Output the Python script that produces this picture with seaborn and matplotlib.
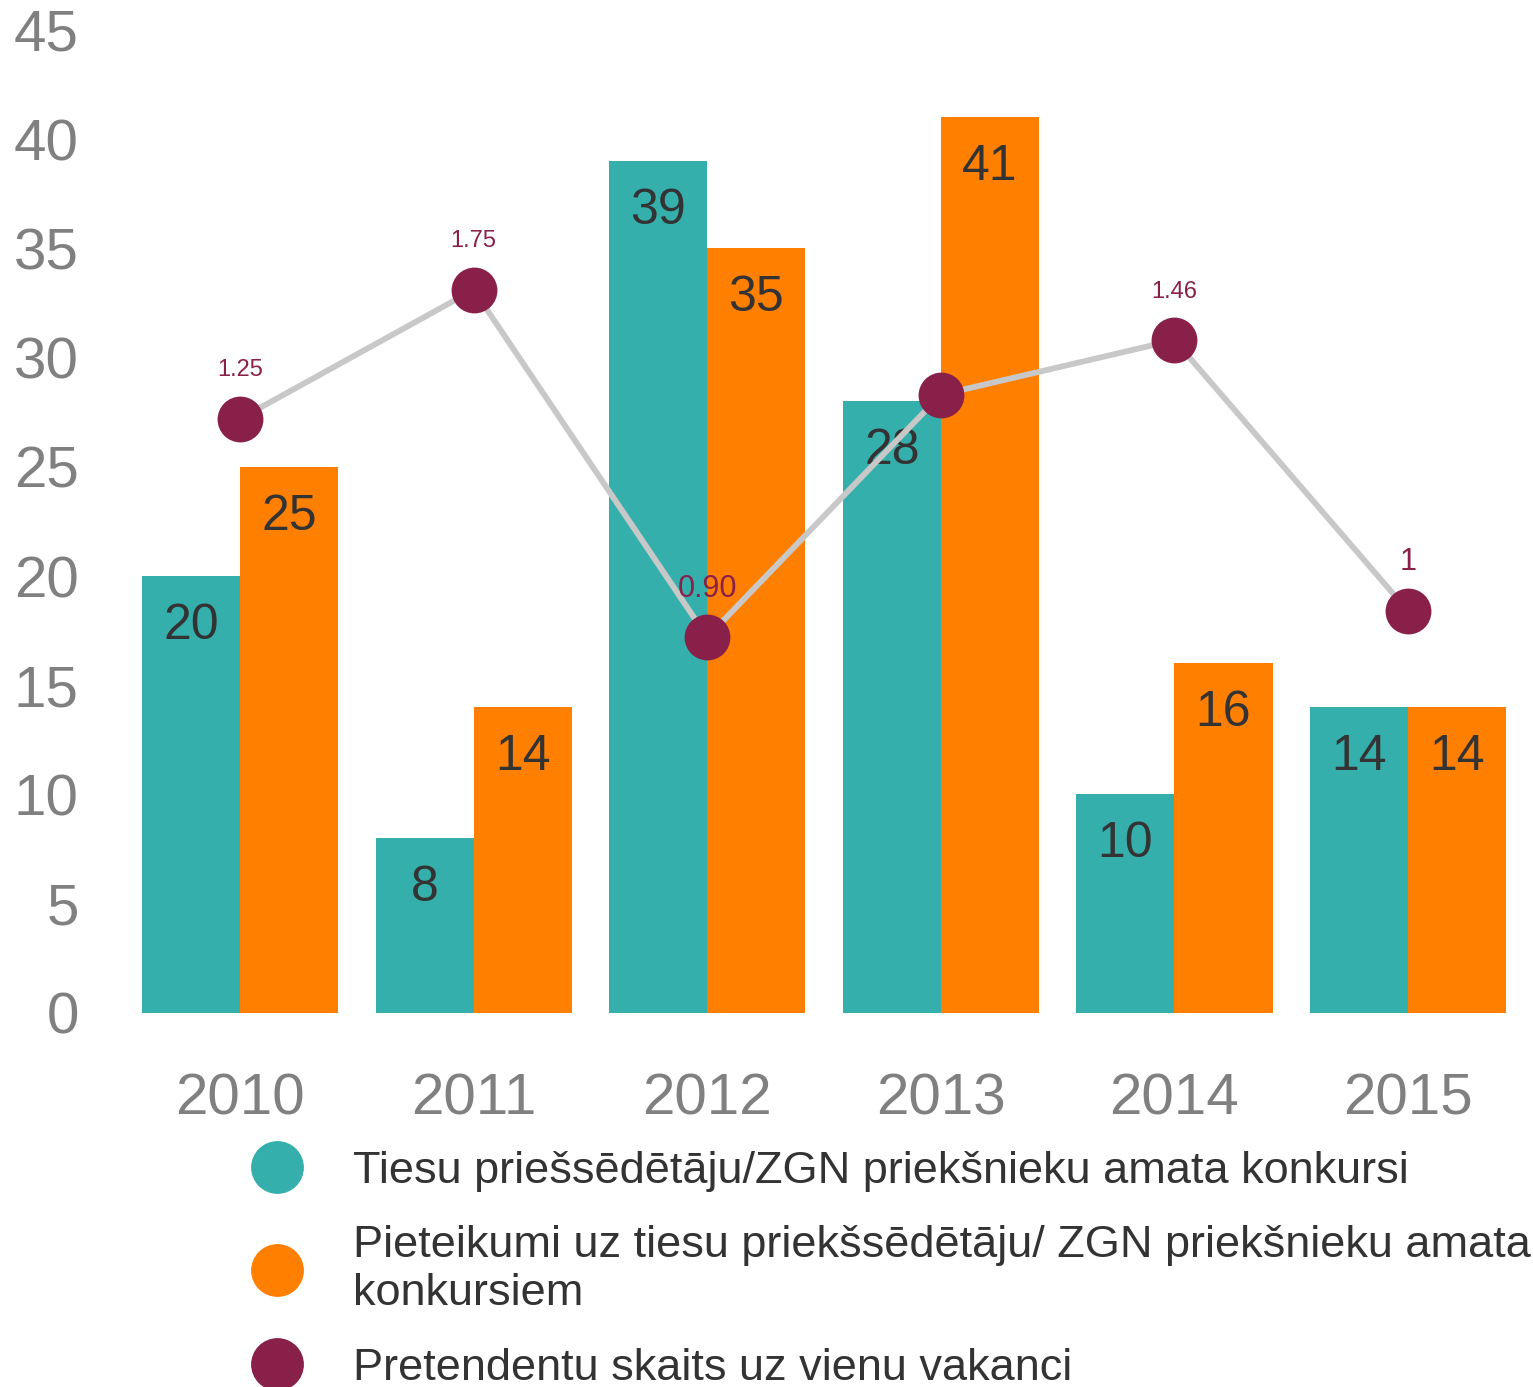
import numpy as np
import pandas as pd
import matplotlib.pyplot as plt
import seaborn as sns
from matplotlib.lines import Line2D

# Data
years = ["2010", "2011", "2012", "2013", "2014", "2015"]
competitions = [20, 8, 39, 28, 10, 14]
applications = [25, 14, 35, 41, 16, 14]
# marker heights as drawn in the picture (on the bar scale) and their printed labels
ratio_height = [27.2, 33.1, 17.2, 28.3, 30.8, 18.4]
ratio_labels = ["1.25", "1.75", "0.90", "", "1.46", "1"]

series_names = [
    "Tiesu priešsēdētāju/ZGN priekšnieku amata konkursi",
    "Pieteikumi uz tiesu priekšsēdētāju/ ZGN priekšnieku amata\nkonkursiem",
    "Pretendentu skaits uz vienu vakanci",
]

teal = "#35AFAB"
orange = "#FF7F00"
maroon = "#88204A"
grey_line = "#C8C8C8"

df = pd.DataFrame({
    "year": years * 2,
    "series": [series_names[0]] * len(years) + [series_names[1]] * len(years),
    "value": competitions + applications,
})

sns.set_style("white")
plt.rcParams["font.family"] = ["Liberation Sans", "DejaVu Sans"]

fig = plt.figure(figsize=(15.33, 13.87), dpi=100)
ax = fig.add_axes([0.0804, 0.2697, 0.9143, 0.7087])

sns.barplot(data=df, x="year", y="value", hue="series", order=years,
            palette=[teal, orange], width=0.84, saturation=1, ax=ax,
            legend=False, linewidth=0)

# value labels inside the bar tops
for cont in ax.containers:
    for p in cont:
        ax.annotate(f"{int(round(p.get_height()))}",
                    (p.get_x() + p.get_width() / 2, p.get_height()),
                    xytext=(0, -36), textcoords="offset points",
                    ha="center", va="center", fontsize=36, color="#333333")

# ratio line
xpos = np.arange(len(years))
sns.lineplot(x=xpos, y=ratio_height, ax=ax, color=grey_line, linewidth=4.2,
             zorder=3)
ax.scatter(xpos, ratio_height, s=33 ** 2, color=maroon, zorder=4,
           linewidths=0)
label_sizes = [17, 17, 22, 17, 17, 22]
for x, h, lab, fs in zip(xpos, ratio_height, ratio_labels, label_sizes):
    ax.annotate(lab, (x, h), xytext=(0, 35), textcoords="offset points",
                ha="center", va="center", fontsize=fs, color=maroon)

ax.set_ylim(0, 45)
ax.set_xlim(-0.5, len(years) - 0.5)
ax.set_yticks(range(0, 46, 5))
ax.set_xlabel("")
ax.set_ylabel("")
ax.tick_params(axis="y", labelsize=42, labelcolor="#808080", length=0, pad=32)
ax.tick_params(axis="x", labelsize=42, labelcolor="#808080", length=0, pad=43)
sns.despine(ax=ax, left=True, bottom=True)

handles = [Line2D([], [], marker="o", linestyle="", markersize=37, color=c)
           for c in [teal, orange, maroon]]
fig.legend(handles, series_names, loc="upper left",
           bbox_to_anchor=(0.1657, 0.1705), frameon=False, fontsize=32.5,
           handlelength=1, handletextpad=1.2, borderpad=0, borderaxespad=0,
           labelspacing=0.75, labelcolor="#333333")

fig.savefig("out.png", dpi=100)
